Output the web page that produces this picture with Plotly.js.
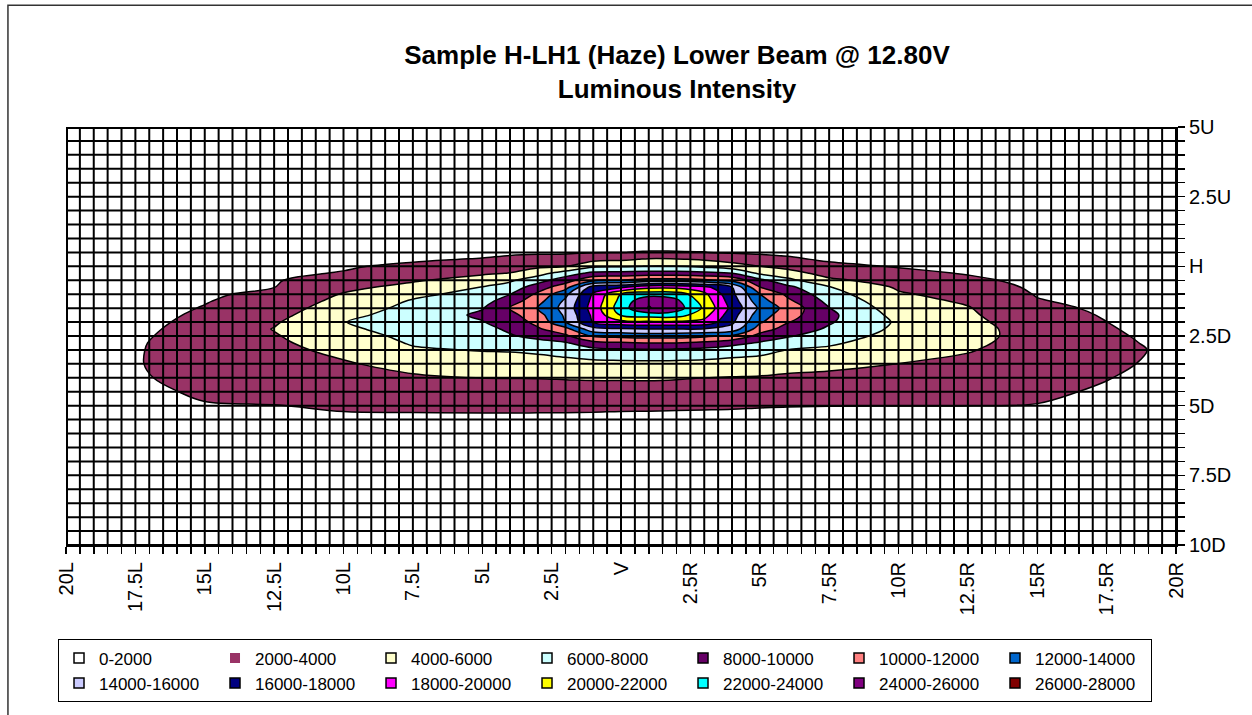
<!DOCTYPE html>
<html>
<head>
<meta charset="utf-8">
<script src="https://cdn.plot.ly/plotly-3.0.1.min.js"></script>
<style>
  html, body { margin: 0; padding: 0; background: #ffffff; }
  #chart { width: 1252px; height: 715px; }
</style>
</head>
<body>
<div id="chart"></div>
<script>
// ---- Data ----
const TITLE_LINE1 = "Sample H-LH1 (Haze) Lower Beam @ 12.80V";
const TITLE_LINE2 = "Luminous Intensity";

// Horizontal angle (deg, L negative / R positive)
const H_ANGLES = [-20, -17.5, -15, -12.5, -10, -7.5, -5, -4, -3, -2, -1, 0, 1, 2, 3, 4, 5, 6, 7.5, 10, 12.5, 15, 17.5, 20];
// Vertical angle (deg, D negative / U positive)
const V_ANGLES = [-10, -7.5, -6, -5.5, -5, -4.5, -4, -3.5, -3, -2.75, -2.5, -2.25, -2, -1.75, -1.5, -1.25, -1, -0.75, -0.5, -0.25, 0, 0.25, 0.5, 1, 2.5, 5];

// Luminous intensity (cd), one row per vertical angle (bottom to top)
const row_10D   = [100, 200, 250, 300, 300, 300, 300, 300, 300, 300, 300, 300, 300, 300, 300, 300, 300, 300, 300, 250, 250, 200, 200, 150];
const row_7_5D  = [350, 550, 600, 650, 650, 700, 700, 700, 700, 700, 700, 700, 700, 700, 700, 700, 700, 650, 650, 600, 600, 550, 500, 400];
const row_6D    = [650, 1100, 1200, 1250, 1300, 1300, 1300, 1300, 1300, 1300, 1300, 1300, 1300, 1300, 1300, 1300, 1250, 1200, 1200, 1200, 1150, 1150, 1050, 800];
const row_5_5D  = [750, 1350, 1550, 1600, 1650, 1650, 1650, 1650, 1650, 1650, 1650, 1600, 1600, 1600, 1600, 1600, 1550, 1500, 1500, 1500, 1500, 1500, 1300, 950];
const row_5D    = [850, 1550, 1930, 1960, 2260, 2340, 2400, 2390, 2370, 2350, 2310, 2280, 2260, 2220, 2180, 2140, 2090, 2050, 2020, 2010, 2010, 1950, 1550, 1100];
const row_4_5D  = [950, 1720, 2170, 2340, 2770, 3030, 3200, 3210, 3210, 3220, 3230, 3210, 3210, 3180, 3090, 3030, 2960, 2860, 2770, 2670, 2540, 2290, 1800, 1250];
const row_4D    = [1050, 1860, 2400, 2720, 3290, 3720, 4020, 4040, 4060, 4120, 4190, 4200, 4210, 4130, 4010, 3910, 3830, 3670, 3540, 3330, 3090, 2630, 2060, 1400];
const row_3_5D  = [1100, 1910, 2640, 3100, 3800, 4670, 5050, 5070, 5140, 5290, 5400, 5450, 5490, 5470, 5370, 5200, 5070, 4750, 4470, 3980, 3630, 2960, 2330, 1550];
const row_3D    = [1050, 1860, 2880, 3470, 4490, 5780, 6090, 6170, 6400, 6800, 7430, 7650, 7760, 7620, 7460, 7000, 6670, 5980, 5650, 4620, 4110, 3300, 2590, 1580];
const row_2_75D = [1000, 1800, 2940, 3660, 4890, 6160, 6550, 7000, 7400, 7800, 9360, 9730, 10030, 9980, 9500, 8670, 7780, 7110, 6290, 4940, 4280, 3470, 2440, 1500];
const row_2_5D  = [950, 1720, 2770, 3850, 5290, 6420, 7000, 7830, 8500, 9600, 12240, 12560, 12780, 12780, 12380, 11760, 9330, 8200, 7000, 5250, 4450, 3460, 2300, 1400];
const row_2_25D = [900, 1640, 2590, 4070, 5690, 6680, 7450, 8310, 9750, 11330, 15330, 15710, 16020, 15990, 15850, 15230, 11000, 9200, 7710, 5560, 4640, 3190, 2150, 1300];
const row_2D    = [850, 1560, 2420, 3790, 5950, 6940, 7910, 8850, 10550, 13980, 18130, 19410, 19670, 19670, 19440, 16370, 12270, 10130, 8210, 5730, 4500, 2920, 2010, 1200];
const row_1_75D = [800, 1480, 2250, 3420, 5490, 6840, 8330, 9390, 11230, 14330, 18460, 22150, 22910, 22910, 20680, 16840, 12960, 10800, 8430, 5360, 4300, 2640, 1880, 1100];
const row_1_5D  = [750, 1400, 2080, 3050, 5040, 6510, 7880, 10050, 12050, 14720, 18850, 23100, 26100, 24950, 21650, 17400, 13650, 11300, 8050, 4980, 4110, 2370, 1750, 1000];
const row_1_25D = [700, 1300, 1920, 2690, 4580, 6170, 7280, 8980, 11300, 14370, 18600, 22650, 25780, 24450, 21150, 17000, 12830, 10440, 7470, 4600, 3780, 2100, 1600, 900];
const row_1D    = [650, 1200, 1800, 2320, 4130, 5560, 6670, 7960, 10370, 13500, 18260, 22050, 23140, 23090, 20490, 16500, 12050, 9570, 6800, 4230, 3290, 1900, 1450, 800];
const row_0_75D = [600, 1100, 1650, 1980, 3490, 4630, 6070, 6870, 9000, 11200, 17000, 17750, 19430, 19430, 18600, 16050, 10050, 8510, 6130, 3740, 2800, 1750, 1250, 700];
const row_0_5D  = [550, 1000, 1500, 1880, 2790, 3760, 4870, 5680, 7200, 9090, 11690, 12050, 12800, 12800, 12400, 11450, 8570, 6560, 4400, 3080, 2310, 1600, 1100, 600];
const row_0_25D = [500, 900, 1350, 1750, 2080, 3030, 3740, 4060, 5200, 7000, 8530, 8670, 8820, 8820, 8560, 8050, 5670, 4790, 3270, 2420, 1900, 1450, 1000, 550];
const row_H     = [450, 800, 1200, 1600, 1850, 2290, 2920, 3200, 3620, 3900, 5600, 5820, 6050, 6020, 5630, 4890, 4030, 3430, 2360, 1900, 1700, 1300, 900, 500];
const row_0_25U = [400, 700, 1050, 1400, 1650, 1800, 2100, 2370, 2650, 2710, 3440, 3670, 4210, 4140, 3790, 3210, 2680, 2240, 1800, 1700, 1450, 1150, 800, 450];
const row_0_5U  = [350, 600, 900, 1150, 1350, 1500, 1600, 1700, 1750, 1800, 1950, 1980, 2080, 2060, 2030, 1850, 1750, 1700, 1550, 1400, 1200, 1000, 700, 400];
const row_1U    = [250, 450, 650, 850, 1000, 1100, 1200, 1250, 1300, 1300, 1300, 1300, 1300, 1300, 1300, 1300, 1250, 1200, 1150, 1000, 900, 700, 500, 300];
const row_2_5U  = [100, 200, 300, 400, 500, 550, 600, 650, 650, 700, 700, 700, 700, 700, 700, 700, 700, 700, 600, 500, 400, 300, 200, 100];
const row_5U    = [0, 50, 50, 100, 100, 150, 200, 200, 200, 200, 200, 200, 200, 200, 200, 200, 200, 200, 150, 100, 100, 50, 50, 0];

const INTENSITY = [row_10D, row_7_5D, row_6D, row_5_5D, row_5D, row_4_5D, row_4D, row_3_5D, row_3D,
  row_2_75D, row_2_5D, row_2_25D, row_2D, row_1_75D, row_1_5D, row_1_25D, row_1D, row_0_75D,
  row_0_5D, row_0_25D, row_H, row_0_25U, row_0_5U, row_1U, row_2_5U, row_5U];

// Band labels and colours (legend)
const BAND_LABELS = ["0-2000", "2000-4000", "4000-6000", "6000-8000", "8000-10000", "10000-12000", "12000-14000",
  "14000-16000", "16000-18000", "18000-20000", "20000-22000", "22000-24000", "24000-26000", "26000-28000"];
const BAND_COLORS = ["#FFFFFF", "#993366", "#FFFFCC", "#CCFFFF", "#660066", "#FF8080", "#0066CC",
  "#CCCCFF", "#000080", "#FF00FF", "#FFFF00", "#00FFFF", "#800080", "#800000"];
const BAND_BORDER = [1.5, 0, 1.5, 1.5, 1.5, 1.5, 1.5, 1.5, 1.5, 1.5, 1.5, 1.5, 1.5, 1.5];

// Axis ticks
const X_TICK_VALS = [-20, -17.5, -15, -12.5, -10, -7.5, -5, -2.5, 0, 2.5, 5, 7.5, 10, 12.5, 15, 17.5, 20];
const X_TICK_TEXT = ["20L", "17.5L", "15L", "12.5L", "10L", "7.5L", "5L", "2.5L", "V", "2.5R", "5R", "7.5R", "10R", "12.5R", "15R", "17.5R", "20R"];
const Y_TICK_VALS = [5, 2.5, 0, -2.5, -5, -7.5, -10];
const Y_TICK_TEXT = ["5U", "2.5U", "H", "2.5D", "5D", "7.5D", "10D"];

// ---- Build figure ----
const FONT = "Liberation Sans, Arial, sans-serif";
const X_RANGE = [-20, 20];
const Y_RANGE = [-10, 5];
const GRID_STEP = 0.5;
const LEVEL_START = 2000, LEVEL_END = 26000, LEVEL_SIZE = 2000;

const colorscale = BAND_COLORS.map((c, i) => [i / (BAND_COLORS.length - 1), c]);

const data = [{
  type: 'contour',
  x: H_ANGLES,
  y: V_ANGLES,
  z: INTENSITY,
  autocontour: false,
  contours: { start: LEVEL_START, end: LEVEL_END, size: LEVEL_SIZE, coloring: 'fill', showlines: true },
  colorscale: colorscale,
  showscale: false,
  showlegend: false,
  line: { color: '#000000', width: 1.5, smoothing: 1 },
  hoverinfo: 'skip'
}];

BAND_LABELS.forEach((label, i) => {
  data.push({
    type: 'scatter',
    mode: 'markers',
    x: [null], y: [null],
    name: label,
    showlegend: true,
    marker: { symbol: 'square', size: 10, color: BAND_COLORS[i],
              line: { color: '#000000', width: BAND_BORDER[i] } },
    hoverinfo: 'skip'
  });
});

// Gridlines drawn above the filled contours (as in the reference)
const shapes = [];
for (let gx = X_RANGE[0]; gx <= X_RANGE[1] + 1e-9; gx += GRID_STEP) {
  shapes.push({ type: 'line', xref: 'x', yref: 'paper', x0: gx, x1: gx, y0: 0, y1: 1, layer: 'above',
    line: { color: '#000000', width: gx === X_RANGE[0] ? 4 : 2 } });
}
for (let gy = Y_RANGE[0]; gy <= Y_RANGE[1] + 1e-9; gy += GRID_STEP) {
  shapes.push({ type: 'line', xref: 'paper', yref: 'y', x0: 0, x1: 1, y0: gy, y1: gy, layer: 'above',
    line: { color: '#000000', width: gy === Y_RANGE[1] ? 4 : 2 } });
}
// Chart-area frame (only the top and left edges fall inside the picture)
shapes.push({ type: 'rect', xref: 'paper', yref: 'paper', x0: -0.0523, x1: 1.2, y0: -0.5, y1: 1.291,
  line: { color: '#333333', width: 1.5 }, fillcolor: 'rgba(0,0,0,0)', layer: 'below' });

const layout = {
  width: 1252,
  height: 715,
  margin: { l: 66, r: 76, t: 127, b: 162 },
  paper_bgcolor: '#ffffff',
  plot_bgcolor: '#ffffff',
  font: { family: FONT, color: '#000000' },
  title: {
    text: TITLE_LINE1 + '<br>' + TITLE_LINE2,
    font: { family: FONT, size: 26, weight: 'bold', color: '#000000' },
    x: 677 / 1252, xref: 'container', xanchor: 'center',
    y: 1 - 64 / 715, yref: 'container', yanchor: 'top'
  },
  xaxis: {
    range: X_RANGE,
    tickmode: 'array', tickvals: X_TICK_VALS, ticktext: X_TICK_TEXT,
    tickangle: -90,
    ticks: 'outside', ticklen: 7, tickwidth: 1.5, tickcolor: '#000000',
    minor: { dtick: GRID_STEP, tick0: 0, ticks: 'outside', ticklen: 7, tickwidth: 1.5, tickcolor: '#000000', showgrid: false },
    tickfont: { family: FONT, size: 20, color: '#000000' },
    showgrid: false, zeroline: false,
    showline: true, linecolor: '#000000', linewidth: 2,
    fixedrange: true
  },
  yaxis: {
    range: Y_RANGE,
    side: 'right',
    tickmode: 'array', tickvals: Y_TICK_VALS, ticktext: Y_TICK_TEXT,
    ticks: 'outside', ticklen: 7, tickwidth: 1.5, tickcolor: '#000000',
    minor: { dtick: GRID_STEP, tick0: 0, ticks: 'outside', ticklen: 7, tickwidth: 1.5, tickcolor: '#000000', showgrid: false },
    tickfont: { family: FONT, size: 20, color: '#000000' },
    showgrid: false, zeroline: false,
    showline: true, linecolor: '#000000', linewidth: 2,
    fixedrange: true
  },
  legend: {
    orientation: 'h',
    x: -0.0072, xanchor: 'left',
    y: -0.226, yanchor: 'top',
    entrywidth: 111, entrywidthmode: 'pixels',
    itemwidth: 30,
    traceorder: 'normal',
    font: { family: FONT, size: 17, color: '#000000' },
    bgcolor: '#ffffff',
    bordercolor: '#000000', borderwidth: 1
  },
  shapes: shapes,
  showlegend: true
};

Plotly.newPlot('chart', data, layout, { displayModeBar: false, staticPlot: true });
</script>
</body>
</html>
